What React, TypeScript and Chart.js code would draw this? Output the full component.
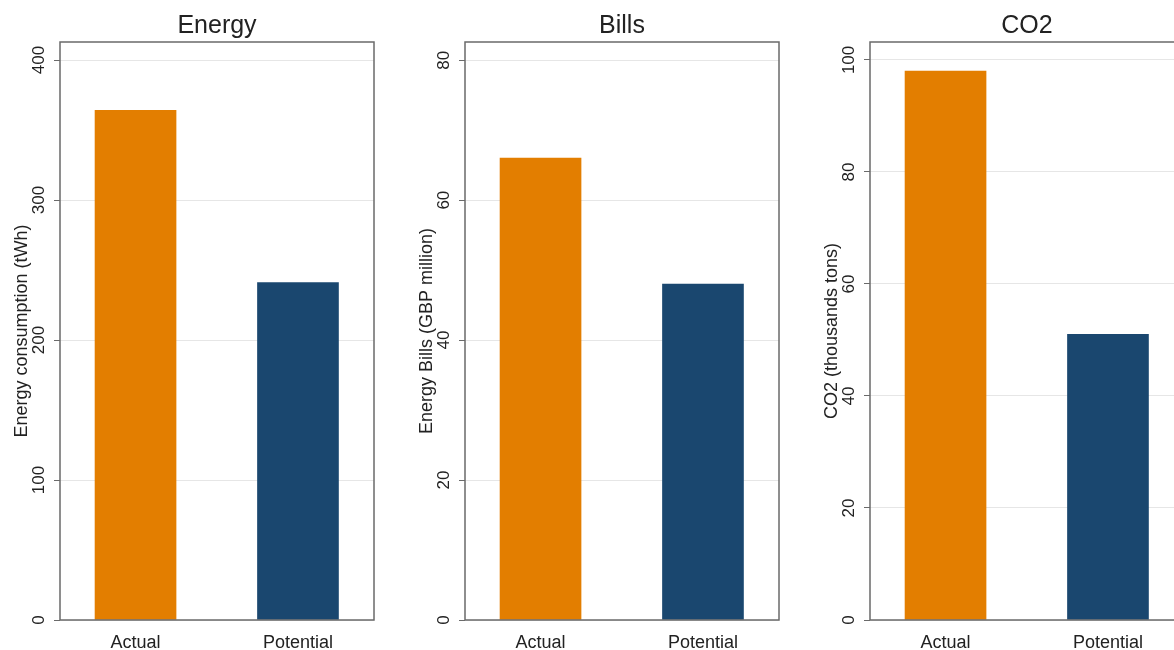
import React, { useEffect, useRef } from 'react';
import { Chart, registerables } from 'chart.js';

Chart.register(...registerables);

const categories = ['Actual', 'Potential'];
const categoryPositions = [1, 2];
const barColors = ['#E37E00', '#1A476F'];

const energyValues = [364, 241];
const billsValues = [66, 48];
const co2Values = [98, 51];

const energyTicks = [0, 100, 200, 300, 400];
const billsTicks = [0, 20, 40, 60, 80];
const co2Ticks = [0, 20, 40, 60, 80, 100];

const panelTitles = ['Energy', 'Bills', 'CO2'];
const yTitles = ['Energy consumption (tWh)', 'Energy Bills (GBP million)', 'CO2 (thousands tons)'];
const yMaxima = [412.9, 82.6, 103.2];

const FONT = "'Liberation Sans', Arial, Helvetica, sans-serif";
const TEXT = '#222222';
const FRAME = '#6a6a6a';

const PANEL_W = 405;
const PANEL_H = 650;

type PanelProps = {
  left: number;
  title: string;
  yTitle: string;
  values: number[];
  ticks: number[];
  yMax: number;
};

function Panel({ left, title, yTitle, values, ticks, yMax }: PanelProps) {
  const ref = useRef<HTMLCanvasElement | null>(null);

  useEffect(() => {
    if (!ref.current) return;
    const decor = {
      id: 'decor',
      afterDraw(chart: any) {
        const { ctx, chartArea } = chart;
        const ys = chart.scales.y;
        ctx.save();
        // frame
        ctx.strokeStyle = FRAME;
        ctx.lineWidth = 1.5;
        ctx.strokeRect(chartArea.left, chartArea.top, chartArea.right - chartArea.left, chartArea.bottom - chartArea.top);
        // y tick labels (rotated)
        ctx.fillStyle = TEXT;
        ctx.font = `17px ${FONT}`;
        ctx.textAlign = 'center';
        ctx.textBaseline = 'alphabetic';
        ys.ticks.forEach((t: any) => {
          const py = ys.getPixelForValue(t.value);
          ctx.save();
          ctx.translate(chartArea.left - 16, py);
          ctx.rotate(-Math.PI / 2);
          ctx.fillText(String(t.value), 0, 0);
          ctx.restore();
        });
        // y title
        ctx.font = `18px ${FONT}`;
        ctx.save();
        ctx.translate(chartArea.left - 33, (chartArea.top + chartArea.bottom) / 2);
        ctx.rotate(-Math.PI / 2);
        ctx.fillText(yTitle, 0, 0);
        ctx.restore();
        // panel title
        ctx.font = `25px ${FONT}`;
        ctx.fillText(title, (chartArea.left + chartArea.right) / 2, 33);
        ctx.restore();
      },
    };

    const chart = new Chart(ref.current, {
      type: 'bar',
      data: {
        datasets: [
          {
            data: values.map((v, i) => ({ x: categoryPositions[i], y: v })),
            backgroundColor: barColors,
            borderWidth: 0,
            barThickness: 81,
          } as any,
        ],
      },
      options: {
        responsive: false,
        animation: false,
        layout: { padding: { top: 42, right: 31, left: 0, bottom: 0 } },
        plugins: {
          legend: { display: false },
          tooltip: { enabled: false },
          title: { display: false },
        },
        scales: {
          x: {
            type: 'linear',
            offset: false,
            min: 0.535,
            max: 2.468,
            afterBuildTicks: (s: any) => {
              s.ticks = categoryPositions.map((v) => ({ value: v }));
            },
            ticks: {
              callback: (v: any) => {
                const idx = categoryPositions.indexOf(Number(v));
                return idx >= 0 ? categories[idx] : '';
              },
              font: { family: FONT, size: 18 },
              color: TEXT,
              padding: 4,
              maxRotation: 0,
              minRotation: 0,
              autoSkip: false,
            },
            grid: { display: false, offset: false },
            border: { display: false },
            afterFit: (s: any) => {
              s.height = 30;
            },
          },
          y: {
            type: 'linear',
            min: 0,
            max: yMax,
            afterBuildTicks: (s: any) => {
              s.ticks = ticks.map((v) => ({ value: v }));
            },
            ticks: { display: false },
            grid: {
              color: '#e6e6e6',
              lineWidth: 1,
              drawTicks: true,
              tickLength: 6,
              tickColor: FRAME,
            },
            border: { display: false },
            afterFit: (s: any) => {
              s.width = 60;
            },
          },
        },
      } as any,
      plugins: [decor],
    });
    return () => chart.destroy();
  }, [title, yTitle, values, ticks, yMax]);

  return (
    <canvas
      ref={ref}
      width={PANEL_W}
      height={PANEL_H}
      style={{ position: 'absolute', left, top: 0, width: PANEL_W, height: PANEL_H }}
    />
  );
}

export default function App() {
  useEffect(() => {
    document.body.style.overflow = 'hidden';
  }, []);
  const valueSets = [energyValues, billsValues, co2Values];
  const tickSets = [energyTicks, billsTicks, co2Ticks];
  return (
    <div
      style={{
        position: 'absolute',
        left: 0,
        top: 0,
        width: 1174,
        height: 650,
        overflow: 'hidden',
        background: '#ffffff',
      }}
    >
      {panelTitles.map((t, i) => (
        <Panel
          key={t}
          left={i * PANEL_W}
          title={t}
          yTitle={yTitles[i]}
          values={valueSets[i]}
          ticks={tickSets[i]}
          yMax={yMaxima[i]}
        />
      ))}
    </div>
  );
}
